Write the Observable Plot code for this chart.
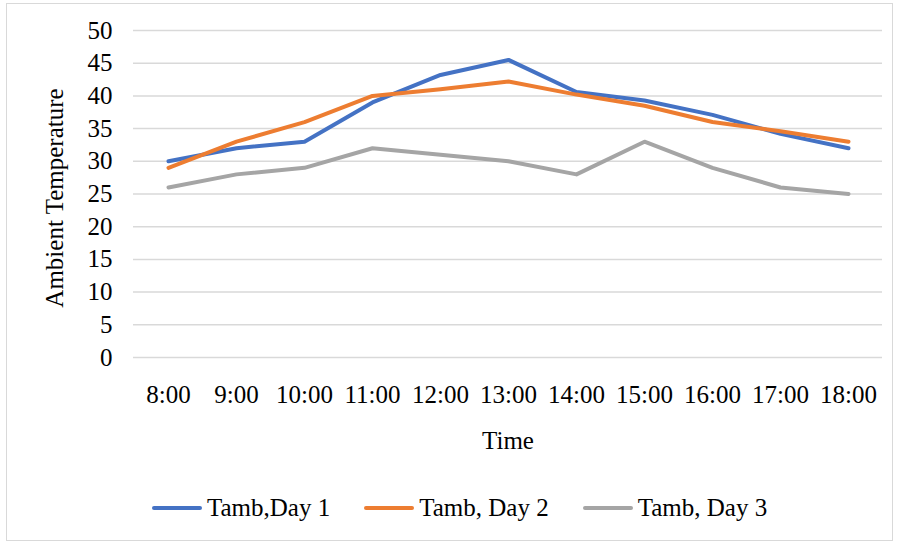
<!DOCTYPE html>
<html>
<head>
<meta charset="utf-8">
<script src="https://cdn.jsdelivr.net/npm/d3@7"></script>
<script src="https://cdn.jsdelivr.net/npm/@observablehq/plot@0.6"></script>
<style>
  html, body { margin: 0; padding: 0; background: #fff; }
  #wrap { position: relative; width: 898px; height: 544px; font-family: "Liberation Serif", "Times New Roman", serif; }
  #border { position: absolute; left: 6px; top: 3px; width: 887px; height: 538px; border: 1px solid #d9d9d9; box-sizing: border-box; }
  #chart { position: absolute; left: 0; top: 0; }
  #legend { position: absolute; left: 152px; top: 494px; display: flex; align-items: center; gap: 34px; font-size: 25px; color: #000; }
  .item { display: flex; align-items: center; gap: 5px; }
  .swatch { width: 50px; height: 4px; border-radius: 2px; }
</style>
</head>
<body>
<div id="wrap">
  <div id="border"></div>
  <div id="chart"></div>
  <div id="legend"></div>
</div>
<script>
const times = ["8:00","9:00","10:00","11:00","12:00","13:00","14:00","15:00","16:00","17:00","18:00"];
const seriesNames = ["Tamb,Day 1", "Tamb, Day 2", "Tamb, Day 3"];
const day1 = [30, 32, 33, 39, 43.2, 45.5, 40.6, 39.3, 37.1, 34.2, 32];
const day2 = [29, 33, 36, 40, 41, 42.2, 40.2, 38.5, 36, 34.6, 33];
const day3 = [26, 28, 29, 32, 31, 30, 28, 33, 29, 26, 25];
const yTicks = [0, 5, 10, 15, 20, 25, 30, 35, 40, 45, 50];
const colors = ["#4472C4", "#ED7D31", "#A5A5A5"];

const allSeries = [day1, day2, day3];
const rows = [];
allSeries.forEach((vals, i) => vals.forEach((v, j) => rows.push({time: times[j], value: v, series: seriesNames[i]})));

const plot = Plot.plot({
  width: 898,
  height: 470,
  marginTop: 30,
  marginBottom: 113,
  marginLeft: 133,
  marginRight: 16,
  style: { fontFamily: '"Liberation Serif", "Times New Roman", serif', fontSize: "25px", color: "#000", background: "transparent", overflow: "visible" },
  x: { type: "point", domain: times, padding: 0.5, label: null },
  y: { domain: [0, 50], label: null },
  color: { domain: seriesNames, range: colors },
  marks: [
    Plot.ruleY(yTicks, { stroke: "#d9d9d9", strokeWidth: 1.5 }),
    Plot.axisY({ ticks: yTicks, tickSize: 0, tickPadding: 21, label: null, fontSize: 25 }),
    Plot.axisX({ tickSize: 0, tickPadding: 28, label: null, fontSize: 25 }),
    ...seriesNames.map(name => Plot.line(rows.filter(d => d.series === name), {
      x: "time", y: "value", stroke: "series", strokeWidth: 4, strokeLinecap: "round", strokeLinejoin: "round"
    })),
    Plot.text(["Time"], { frameAnchor: "bottom", dy: 91, fontSize: 25, fill: "#000" }),
    Plot.text(["Ambient Temperature"], { frameAnchor: "left", textAnchor: "middle", dx: -79, dy: 4, rotate: -90, fontSize: 25, fill: "#000" })
  ]
});
document.getElementById("chart").appendChild(plot);

const legend = document.getElementById("legend");
seriesNames.forEach((name, i) => {
  const item = document.createElement("div");
  item.className = "item";
  const sw = document.createElement("div");
  sw.className = "swatch";
  sw.style.background = colors[i];
  const label = document.createElement("span");
  label.textContent = name;
  item.appendChild(sw);
  item.appendChild(label);
  legend.appendChild(item);
});
</script>
</body>
</html>
